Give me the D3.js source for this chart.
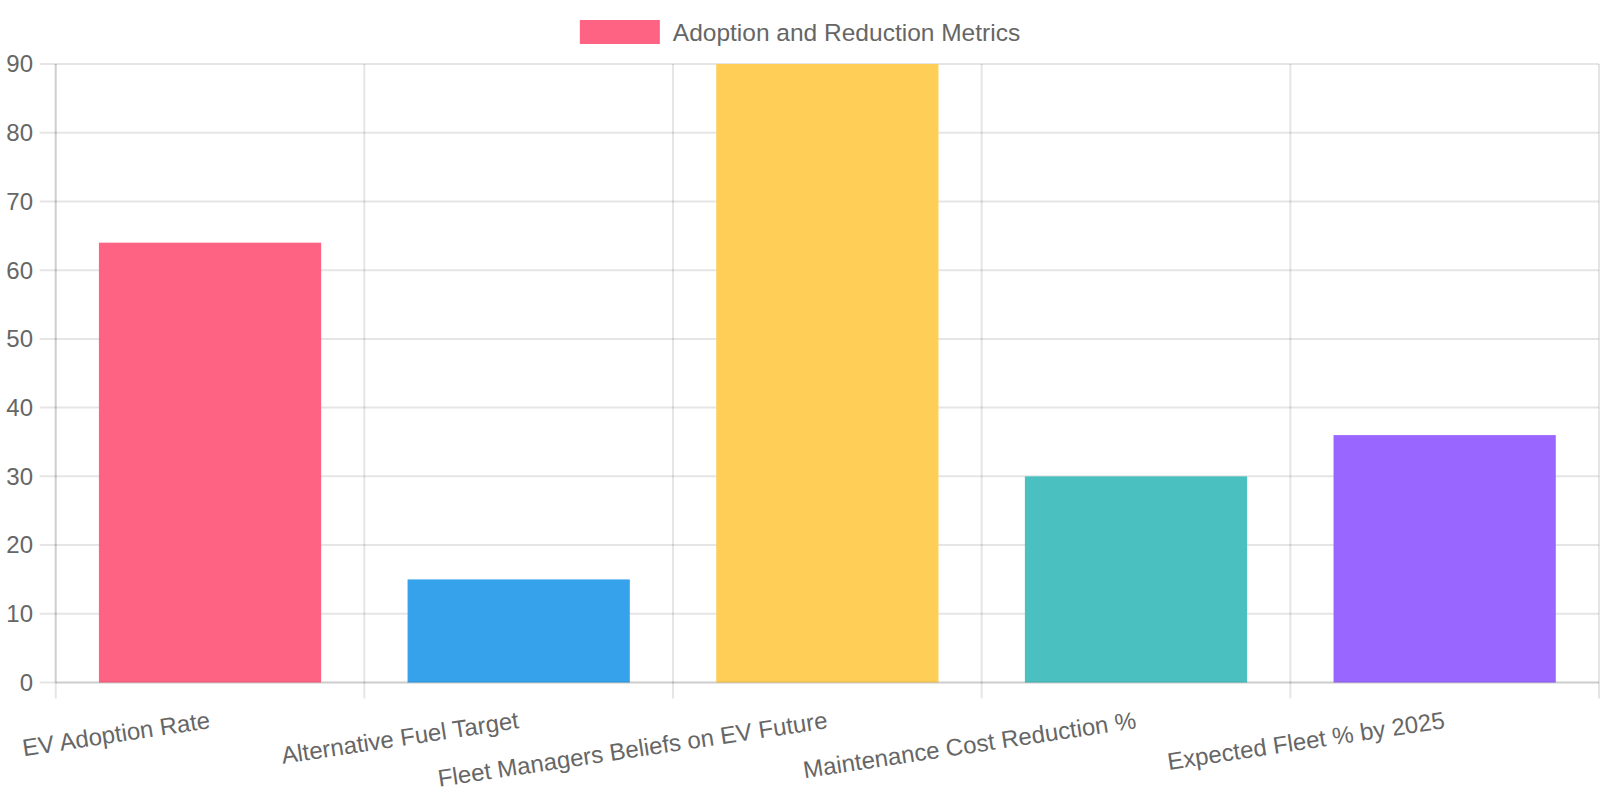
<!DOCTYPE html>
<html>
<head>
<meta charset="utf-8">
<script src="https://cdn.jsdelivr.net/npm/d3@7"></script>
<style>
  body { margin: 0; background: #fff; }
  svg { display: block; }
  text { font-family: "Liberation Sans", Arial, Helvetica, sans-serif; fill: #666; font-size: 24px; }
  text.wide { font-size: 24.5px; }
</style>
</head>
<body>
<div id="chart"></div>
<script>
// chart data
const categories = ['EV Adoption Rate', 'Alternative Fuel Target', 'Fleet Managers Beliefs on EV Future', 'Maintenance Cost Reduction %', 'Expected Fleet % by 2025'];
const values = [64, 15, 90, 30, 36];
const barColors = ['#FF6384', '#36A2EB', '#FFCE56', '#4BC0C0', '#9966FF'];
const yTicks = [0, 10, 20, 30, 40, 50, 60, 70, 80, 90];
const seriesName = 'Adoption and Reduction Metrics';

const width = 1600, height = 800;
const plotLeft = 55.7, plotRight = 1599, plotTop = 64, plotBottom = 682.5;

const svg = d3.select('#chart')
    .append('svg')
    .attr('width', width)
    .attr('height', height);

const x = d3.scaleBand()
    .domain(categories)
    .range([plotLeft, plotRight])
    .padding(0);

const y = d3.scaleLinear()
    .domain([0, 90])
    .range([plotBottom, plotTop]);

const grid = svg.append('g');

// horizontal grid lines (with tick marks to the left)
grid.selectAll('line.h')
    .data(yTicks)
    .enter()
    .append('line')
    .attr('x1', plotLeft - 16)
    .attr('x2', plotRight)
    .attr('y1', function (d) { return y(d) })
    .attr('y2', function (d) { return y(d) })
    .style('stroke', 'rgba(0,0,0,0.1)')
    .style('stroke-width', 2);

// vertical grid lines at category edges
let edges = categories.map(function (c) { return x(c) });
edges.push(plotRight);
grid.selectAll('line.v')
    .data(edges)
    .enter()
    .append('line')
    .attr('x1', function (d) { return d })
    .attr('x2', function (d) { return d })
    .attr('y1', plotTop)
    .attr('y2', plotBottom + 16)
    .style('stroke', 'rgba(0,0,0,0.1)')
    .style('stroke-width', 2);

// bars
const barW = x.bandwidth() * 0.72;
svg.append('g')
    .selectAll('rect')
    .data(values)
    .enter()
    .append('rect')
    .attr('x', function (d, i) { return x(categories[i]) + (x.bandwidth() - barW) / 2 })
    .attr('y', function (d) { return y(d) })
    .attr('width', barW)
    .attr('height', function (d) { return y(0) - y(d) })
    .style('fill', function (d, i) { return barColors[i] });

// axis borders, drawn over the grid
svg.append('line')
    .attr('x1', plotLeft).attr('x2', plotRight)
    .attr('y1', y(0)).attr('y2', y(0))
    .style('stroke', 'rgba(0,0,0,0.1)')
    .style('stroke-width', 2);
svg.append('line')
    .attr('x1', plotLeft).attr('x2', plotLeft)
    .attr('y1', plotTop).attr('y2', plotBottom)
    .style('stroke', 'rgba(0,0,0,0.1)')
    .style('stroke-width', 2);

// y tick labels
svg.append('g')
    .selectAll('text')
    .data(yTicks)
    .enter()
    .append('text')
    .attr('x', 33)
    .attr('y', function (d) { return y(d) })
    .attr('dy', '0.35em')
    .attr('text-anchor', 'end')
    .text(function (d) { return d });

// x tick labels, rotated
svg.append('g')
    .selectAll('text')
    .data(categories)
    .enter()
    .append('text')
    .attr('text-anchor', 'end')
    .attr('transform', function (d) {
        return 'translate(' + (x(d) + x.bandwidth() / 2 + 1) + ',728) rotate(-8.6)';
    })
    .text(function (d) { return d });

// legend
const legend = svg.append('g');
const legendText = legend.append('text')
    .attr('class', 'wide')
    .attr('y', 32)
    .attr('dy', '0.35em')
    .text(seriesName);
const tw = legendText.node().getComputedTextLength();
const lx = (width - (80 + 13 + tw)) / 2;
legend.append('rect')
    .attr('x', lx)
    .attr('y', 20)
    .attr('width', 80)
    .attr('height', 24)
    .style('fill', barColors[0]);
legendText.attr('x', lx + 93);
</script>
</body>
</html>
